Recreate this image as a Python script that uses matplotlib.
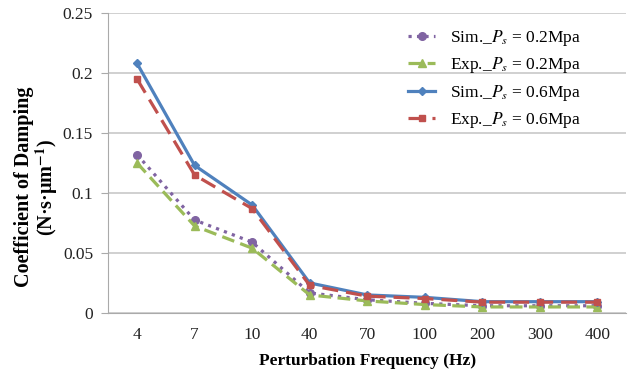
import matplotlib.pyplot as plt

plt.rcParams['font.family'] = ['Liberation Serif', 'DejaVu Serif']
plt.rcParams['mathtext.fontset'] = 'stix'

frecuencias = ["4", "7", "10", "40", "70", "100", "200", "300", "400"]
sim_02 = [0.132, 0.0775, 0.059, 0.0167, 0.011, 0.008, 0.006, 0.006, 0.006]
exp_02 = [0.125, 0.0725, 0.054, 0.015, 0.010, 0.007, 0.005, 0.005, 0.005]
sim_06 = [0.208, 0.123, 0.090, 0.025, 0.015, 0.013, 0.0094, 0.0094, 0.0094]
exp_06 = [0.195, 0.115, 0.087, 0.023, 0.014, 0.012, 0.009, 0.009, 0.009]

fig = plt.figure(figsize=(6.37, 3.73), dpi=100)
ax = fig.add_axes([0.17, 0.161, 0.813, 0.804])

x = list(range(len(frecuencias)))
ax.plot(x, sim_02, color="#8064A2", linestyle=":", linewidth=2.3, marker="o",
        markersize=5.5, label="Sim._$P_s$ = 0.2Mpa")
ax.plot(x, exp_02, color="#9BBB59", linestyle=(0, (4, 2)), linewidth=2.3, marker="^",
        markersize=5.5, label="Exp._$P_s$ = 0.2Mpa")
ax.plot(x, sim_06, color="#4F81BD", linestyle="-", linewidth=2.3, marker="D",
        markersize=4, label="Sim._$P_s$ = 0.6Mpa")
ax.plot(x, exp_06, color="#C0504D", linestyle=(0, (5, 2.5)), linewidth=2.3, marker="s",
        markersize=5, label="Exp._$P_s$ = 0.6Mpa")

ax.set_xlim(-0.5, len(frecuencias) - 0.5)
ax.set_ylim(0, 0.25)
ax.set_xticks(x)
ax.set_xticklabels(frecuencias)
ax.set_yticks([0, 0.05, 0.1, 0.15, 0.2, 0.25])
ax.set_yticklabels(["0", "0.05", "0.1", "0.15", "0.2", "0.25"])
ax.tick_params(axis="x", length=0, labelsize=12.5, pad=10, colors="#222222")
ax.tick_params(axis="y", length=5, color="#aaaaaa", labelsize=12.5, pad=6, labelcolor="#222222")

ax.grid(True, axis="y", color="#c8c8c8", linewidth=1.2)
ax.set_axisbelow(True)
for lado in ["top", "right"]:
    ax.spines[lado].set_visible(False)
ax.spines["left"].set_color("#aaaaaa")
ax.spines["bottom"].set_color("#aaaaaa")

ax.set_xlabel("Perturbation Frequency (Hz)", fontsize=12.5, fontweight="bold", labelpad=7)
ax.set_ylabel("Coefficient of Damping\n(N·s·μm$^{\\mathbf{-1}}$)", fontsize=14.5,
              fontweight="bold", linespacing=1.0)
ax.yaxis.set_label_coords(-0.093, 0.42)

ax.legend(loc="upper left", bbox_to_anchor=(0.548, 1.002), frameon=False, fontsize=12.5,
          labelspacing=0.42, handlelength=1.6, handletextpad=0.85)

fig.savefig("out.png", dpi=100)
